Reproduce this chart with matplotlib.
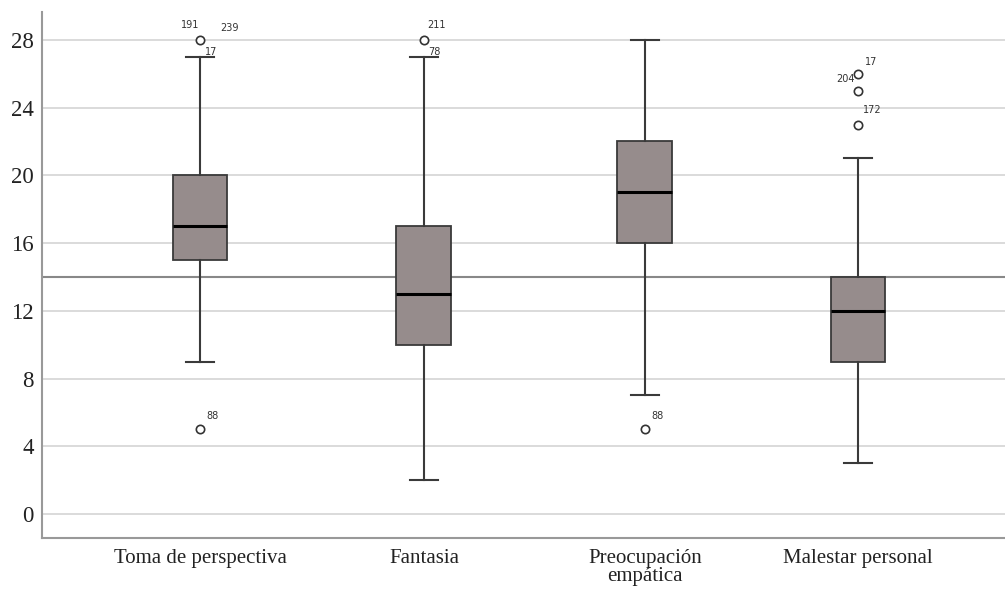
import matplotlib
matplotlib.use("Agg")
import matplotlib.pyplot as plt

categories = ["Toma de perspectiva", "Fantasia", "Preocupación\nempática", "Malestar personal"]
whislo = [9, 2, 7, 3]
q1 = [15, 10, 16, 9]
med = [17, 13, 19, 12]
q3 = [20, 17, 22, 14]
whishi = [27, 27, 28, 21]
outliers = [[28, 5], [28], [5], [26, 25, 23]]
# outlier labels: (group, value, text, dx px, dy px)
labels = [(0, 28, "191", -10, 15), (0, 28, "239", 30, 12), (0, 28, "17", 11, -12),
          (0, 5, "88", 13, 13),
          (1, 28, "211", 13, 15), (1, 28, "78", 10, -12),
          (2, 5, "88", 13, 13),
          (3, 26, "17", 13, 12), (3, 26, "204", -13, -5), (3, 23, "172", 14, 15)]
ref_line = 14

stats = []
for i in range(len(categories)):
    stats.append(dict(whislo=whislo[i], q1=q1[i], med=med[i], q3=q3[i],
                      whishi=whishi[i], fliers=outliers[i]))

fig = plt.figure(figsize=(10.05, 5.96), dpi=100)
ax = fig.add_axes([0.0418, 0.0973, 0.9582, 0.8826])

pos = [0, 1.021, 2.028, 3.0]
ax.bxp(stats, positions=pos, widths=0.25, patch_artist=True, showcaps=True,
       boxprops=dict(facecolor="#968c8c", edgecolor="#3a3a3a", linewidth=1.3),
       medianprops=dict(color="black", linewidth=2.2),
       whiskerprops=dict(color="#3a3a3a", linewidth=1.5),
       capprops=dict(color="#3a3a3a", linewidth=1.5),
       flierprops=dict(marker="o", markerfacecolor="white", markeredgecolor="#333333",
                       markersize=6, markeredgewidth=1.2))

ax.axhline(ref_line, color="#888888", linewidth=1.5, zorder=1)

px = 72.0 / 100
for g, v, t, dx, dy in labels:
    ax.annotate(t, (pos[g], v), xytext=(dx * px, dy * px), textcoords="offset points",
                fontsize=7, color="#333333", ha="center", va="center",
                family="DejaVu Sans")

ax.set_ylim(-1.42, 29.65)
ax.set_xlim(-0.72, 3.67)
ax.set_yticks(range(0, 29, 4))
ax.set_xticks(pos)
ax.set_xticklabels(categories, family="Liberation Serif", fontsize=15, linespacing=0.95)
for lab in ax.get_yticklabels():
    lab.set_family("Liberation Serif")
    lab.set_fontsize(16.5)
ax.tick_params(axis="both", length=0, pad=6, colors="#222222")
ax.tick_params(axis="x", pad=8)
ax.yaxis.grid(True, color="#d8d8d8", linewidth=1.3)
ax.set_axisbelow(True)
for s in ["top", "right"]:
    ax.spines[s].set_visible(False)
for s in ["left", "bottom"]:
    ax.spines[s].set_color("#999999")
    ax.spines[s].set_linewidth(1.5)

fig.savefig("out.png", dpi=100)
